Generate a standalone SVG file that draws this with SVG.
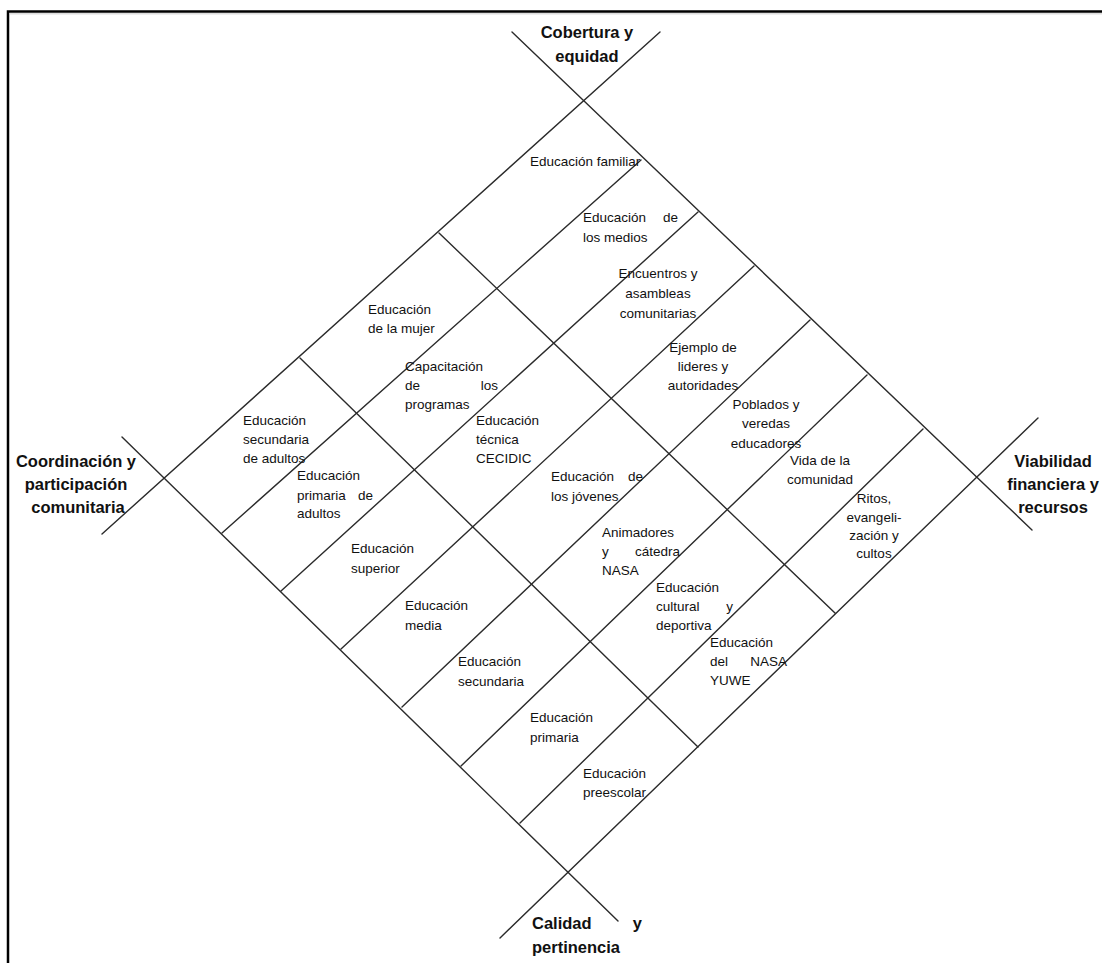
<svg xmlns="http://www.w3.org/2000/svg" width="1102" height="963" viewBox="0 0 1102 963">
<style>
.frame{stroke:#000;stroke-width:2.5;fill:none}
.ln{stroke:#2b2b2b;stroke-width:1.4;fill:none;stroke-linecap:round}
.t{font-family:"Liberation Sans",Arial,sans-serif;font-size:13.5px;fill:#111}
.c{text-anchor:middle}
.e{text-anchor:end}
.lab{font-family:"Liberation Sans",Arial,sans-serif;font-size:16.5px;font-weight:bold;fill:#111;text-anchor:middle}
</style>
<rect width="1102" height="963" fill="#fff"/>
<g id="frame">
<path class="frame" d="M8,963 V11.5 H1102"/>
<path d="M10,13.8 H1102" stroke="#ddd" stroke-width="1.5"/>
</g>
<g id="connectors">
<line class="ln" x1="660" y1="32" x2="102" y2="534"/>
<line class="ln" x1="512" y1="32" x2="1032" y2="530"/>
<line class="ln" x1="122" y1="437" x2="618" y2="921"/>
<line class="ln" x1="1038" y1="418" x2="500" y2="938"/>
<line class="ln" x1="641" y1="160" x2="222" y2="533"/>
<line class="ln" x1="698" y1="212" x2="281" y2="591"/>
<line class="ln" x1="754" y1="266" x2="341" y2="649"/>
<line class="ln" x1="810" y1="320" x2="402" y2="707"/>
<line class="ln" x1="867" y1="375" x2="461" y2="766"/>
<line class="ln" x1="923" y1="429" x2="520" y2="823"/>
<line class="ln" x1="439" y1="233" x2="835" y2="613"/>
<line class="ln" x1="300" y1="358" x2="698" y2="747"/>
</g>
<g id="axis-cobertura"><text class="lab" x="587" y="38">Cobertura y</text><text class="lab" x="587" y="62">equidad</text></g>
<g id="axis-coordinacion"><text class="lab" x="76" y="467">Coordinación y</text><text class="lab" x="76" y="490">participación</text><text class="lab" x="78" y="513">comunitaria</text></g>
<g id="axis-viabilidad"><text class="lab" x="1053" y="467">Viabilidad</text><text class="lab" x="1053" y="490">financiera y</text><text class="lab" x="1053" y="513">recursos</text></g>
<g id="axis-calidad"><text class="lab" x="532" y="929" style="text-anchor:start">Calidad</text><text class="lab" x="642" y="929" style="text-anchor:end">y</text><text class="lab" x="532" y="953" style="text-anchor:start">pertinencia</text></g>

<g id="n-familiar"><text class="t" x="530" y="166">Educación familiar</text></g>
<g id="n-medios"><text class="t" x="583" y="222">Educación</text><text class="t e" x="678" y="222">de</text><text class="t" x="583" y="242">los medios</text></g>
<g id="n-encuentros"><text class="t c" x="658" y="278">Encuentros y</text><text class="t c" x="658" y="298">asambleas</text><text class="t c" x="658" y="318">comunitarias</text></g>
<g id="n-ejemplo"><text class="t c" x="703" y="352">Ejemplo de</text><text class="t c" x="703" y="371">lideres y</text><text class="t c" x="703" y="390">autoridades</text></g>
<g id="n-poblados"><text class="t c" x="766" y="409">Poblados y</text><text class="t c" x="766" y="428">veredas</text><text class="t c" x="766" y="448">educadores</text></g>
<g id="n-vida"><text class="t c" x="820" y="465">Vida de la</text><text class="t c" x="820" y="484">comunidad</text></g>
<g id="n-ritos"><text class="t c" x="874" y="503">Ritos,</text><text class="t c" x="874" y="522">evangeli-</text><text class="t c" x="874" y="540">zación y</text><text class="t c" x="874" y="558">cultos</text></g>

<g id="n-mujer"><text class="t" x="368" y="314">Educación</text><text class="t" x="368" y="333">de la mujer</text></g>
<g id="n-capacitacion"><text class="t" x="405" y="371">Capacitación</text><text class="t" x="405" y="390">de</text><text class="t e" x="498" y="390">los</text><text class="t" x="405" y="409">programas</text></g>
<g id="n-tecnica"><text class="t" x="476" y="425">Educación</text><text class="t" x="476" y="444">técnica</text><text class="t" x="476" y="463">CECIDIC</text></g>
<g id="n-jovenes"><text class="t" x="551" y="481">Educación</text><text class="t e" x="643" y="481">de</text><text class="t" x="551" y="501">los jóvenes</text></g>
<g id="n-animadores"><text class="t" x="602" y="537">Animadores</text><text class="t" x="602" y="556">y</text><text class="t e" x="680" y="556">cátedra</text><text class="t" x="602" y="575">NASA</text></g>
<g id="n-cultural"><text class="t" x="656" y="592">Educación</text><text class="t" x="656" y="611">cultural</text><text class="t e" x="733" y="611">y</text><text class="t" x="656" y="630">deportiva</text></g>
<g id="n-nasayuwe"><text class="t" x="710" y="647">Educación</text><text class="t" x="710" y="666">del</text><text class="t e" x="787" y="666">NASA</text><text class="t" x="710" y="685">YUWE</text></g>

<g id="n-sec-adultos"><text class="t" x="243" y="425">Educación</text><text class="t" x="243" y="444">secundaria</text><text class="t" x="243" y="463">de adultos</text></g>
<g id="n-prim-adultos"><text class="t" x="297" y="480">Educación</text><text class="t" x="297" y="500">primaria</text><text class="t e" x="373" y="500">de</text><text class="t" x="297" y="518">adultos</text></g>
<g id="n-superior"><text class="t" x="351" y="553">Educación</text><text class="t" x="351" y="573">superior</text></g>
<g id="n-media"><text class="t" x="405" y="610">Educación</text><text class="t" x="405" y="630">media</text></g>
<g id="n-secundaria"><text class="t" x="458" y="666">Educación</text><text class="t" x="458" y="686">secundaria</text></g>
<g id="n-primaria"><text class="t" x="530" y="722">Educación</text><text class="t" x="530" y="742">primaria</text></g>
<g id="n-preescolar"><text class="t" x="583" y="778">Educación</text><text class="t" x="583" y="797">preescolar</text></g>
</svg>
